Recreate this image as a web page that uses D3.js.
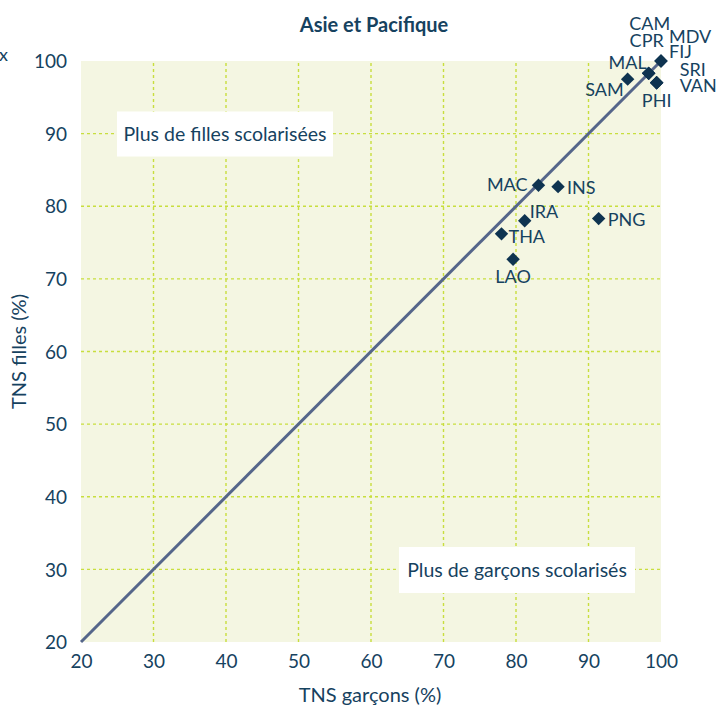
<!DOCTYPE html>
<html>
<head>
<meta charset="utf-8">
<script src="https://cdn.jsdelivr.net/npm/d3@7"></script>
<style>
  body { margin: 0; background: #fff; }
  text { font-family: Lato, "Open Sans", sans-serif; }
</style>
</head>
<body>
<div id="chart"></div>
<script>
// data
var codes   = ["FIJ", "MDV", "CAM", "CPR", "MAL", "SAM", "SRI", "VAN", "PHI", "MAC", "INS", "IRA", "THA", "LAO", "PNG"];
var boys    = [100, 100, 98.3, 98.3, 98.3, 95.4, 99.4, 99.4, 99.4, 83.1, 85.8, 81.2, 78.0, 79.6, 91.4];
var girls   = [100, 100, 98.3, 98.3, 98.3, 97.5, 97.0, 97.0, 97.0, 82.9, 82.7, 78.0, 76.2, 72.7, 78.3];
// label placement relative to the diamond (dx, dy, anchor)
var labelDx = [8, 8, 1, -2, -2, -4, 23, 23, 0, -11, 9, 5, 7, 0, 9];
var labelDy = [-9, -24, -50, -33, -11, 11, -13, 3, 18, 0, 1, -9, 3, 17, 1];
var labelAnchor = ["start", "start", "middle", "middle", "end", "end", "start", "start", "middle", "end", "start", "start", "start", "middle", "start"];

var xTicks = [20, 30, 40, 50, 60, 70, 80, 90, 100];
var yTicks = [20, 30, 40, 50, 60, 70, 80, 90, 100];

var width = 718, height = 710;
var margin = {top: 61, right: 57, bottom: 68, left: 81};
var ink = "#16425f", navy = "#0e3350";

var svg = d3.select("#chart").append("svg").attr("width", width).attr("height", height);

var x = d3.scaleLinear().domain([20, 100]).range([margin.left, width - margin.right]);
var y = d3.scaleLinear().domain([20, 100]).range([height - margin.bottom, margin.top]);

// plot background
svg.append("rect")
    .attr("x", x(20)).attr("y", y(100))
    .attr("width", x(100) - x(20)).attr("height", y(20) - y(100))
    .style("fill", "#f4f6e2");

// dashed grid
var grid = svg.append("g").attr("class", "grid")
    .style("stroke", "#c8de3e").style("stroke-width", 1.4).style("stroke-dasharray", "3,3");
grid.selectAll("line.v").data(xTicks.slice(1, -1)).enter().append("line")
    .attr("x1", d => x(d)).attr("x2", d => x(d))
    .attr("y1", y(20)).attr("y2", y(100));
grid.selectAll("line.h").data(yTicks.slice(1, -1)).enter().append("line")
    .attr("y1", d => y(d)).attr("y2", d => y(d))
    .attr("x1", x(20)).attr("x2", x(100));

// axes (labels only)
var xAxis = svg.append("g").attr("transform", "translate(0," + (y(20) + 8) + ")")
    .call(d3.axisBottom(x).tickValues(xTicks).tickSize(0).tickPadding(4));
var yAxis = svg.append("g").attr("transform", "translate(" + (x(20) - 14) + ",0)")
    .call(d3.axisLeft(y).tickValues(yTicks).tickSize(0).tickPadding(0));
[xAxis, yAxis].forEach(function(a) {
  a.select(".domain").remove();
  a.selectAll("text").style("font-size", "19px").style("fill", ink).style("font-family", "Lato, sans-serif");
});
yAxis.selectAll("text").attr("dy", "0.35em");

// annotation boxes
function noteBox(cx, cy, w, h, label) {
  svg.append("rect").attr("x", cx - w / 2).attr("y", cy - h / 2)
      .attr("width", w).attr("height", h).style("fill", "#fff");
  svg.append("text").attr("x", cx).attr("y", cy).attr("dy", "0.35em")
      .attr("text-anchor", "middle").style("font-size", "19.5px").style("fill", ink)
      .text(label);
}
noteBox(225, 134, 216, 45, "Plus de filles scolarisées");
noteBox(517, 570, 236, 46, "Plus de garçons scolarisés");

// parity line
svg.append("line")
    .attr("x1", x(20)).attr("y1", y(20)).attr("x2", x(100)).attr("y2", y(100))
    .style("stroke", "#55668a").style("stroke-width", 3);

// points
var pts = codes.map((c, i) => ({code: c, bx: boys[i], gy: girls[i], dx: labelDx[i], dy: labelDy[i], anchor: labelAnchor[i]}));

svg.selectAll("path.pt").data(pts).enter().append("path")
    .attr("class", "pt")
    .attr("d", d3.symbol().type(d3.symbolSquare).size(90))
    .attr("transform", d => "translate(" + x(d.bx) + "," + y(d.gy) + ") rotate(45)")
    .style("fill", navy);

svg.selectAll("text.lbl").data(pts).enter().append("text")
    .attr("class", "lbl")
    .attr("x", d => x(d.bx) + d.dx)
    .attr("y", d => y(d.gy) + d.dy)
    .attr("dy", "0.35em")
    .attr("text-anchor", d => d.anchor)
    .style("font-size", "18px").style("fill", ink)
    .text(d => d.code);

// titles
svg.append("text").attr("x", 374).attr("y", 25).attr("dy", "0.35em")
    .attr("text-anchor", "middle").style("font-size", "20px").style("font-weight", "bold")
    .style("fill", ink).text("Asie et Pacifique");

svg.append("text").attr("x", 370).attr("y", 695).attr("dy", "0.35em")
    .attr("text-anchor", "middle").style("font-size", "20px").style("fill", ink)
    .text("TNS garçons (%)");

svg.append("text").attr("transform", "translate(19," + y(60) + ") rotate(-90)").attr("dy", "0.35em")
    .attr("text-anchor", "middle").style("font-size", "20px").style("fill", ink)
    .text("TNS filles (%)");

// clipped leftover glyph at the top-left edge
svg.append("text").attr("x", -1).attr("y", 55).attr("dy", "0.35em")
    .style("font-size", "18px").style("fill", ink).text("x");
</script>
</body>
</html>
